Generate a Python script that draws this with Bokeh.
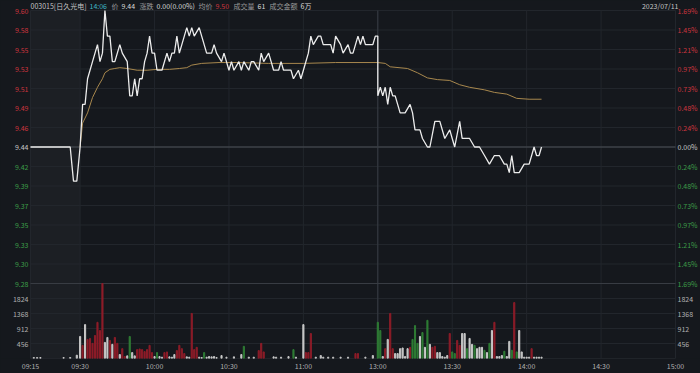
from bokeh.plotting import figure
from bokeh.models import (Range1d, FixedTicker, ColumnDataSource, BoxAnnotation, GlobalInlineStyleSheet)
from bokeh.core.properties import value
from bokeh.embed import file_html
from bokeh.resources import INLINE

# ---------------- data ----------------
prev_close = 9.44
price_hi, price_lo = 9.60, 9.28
price_tick_labels = ["9.60", "9.58", "9.55", "9.53", "9.51", "9.49", "9.46", "9.44",
                     "9.42", "9.39", "9.37", "9.35", "9.33", "9.30", "9.28"]
pct_tick_labels = ["1.69%", "1.45%", "1.21%", "0.97%", "0.73%", "0.48%", "0.24%", "0.00%",
                   "0.24%", "0.48%", "0.73%", "0.97%", "1.21%", "1.45%", "1.69%"]
vol_ticks = [456, 912, 1368, 1824]
vol_max = 2280
time_tick_labels = ["09:15", "09:30", "10:00", "10:30", "11:00", "13:00", "13:30", "14:00", "14:30", "15:00"]

price_times = ["09:15", "09:27", "09:28", "09:29", "09:30", "09:31", "09:32", "09:33", "09:35", "09:37",
               "09:38", "09:39", "09:40", "09:41", "09:42", "09:43", "09:44", "09:46", "09:47", "09:49",
               "09:50", "09:51", "09:52", "09:53", "09:54", "09:55", "09:56", "09:57", "09:58", "09:59",
               "10:00", "10:01", "10:03", "10:05", "10:06", "10:07", "10:08", "10:09", "10:10", "10:12",
               "10:13", "10:14", "10:15", "10:16", "10:18", "10:19", "10:21", "10:23", "10:24", "10:25",
               "10:27", "10:28", "10:30", "10:31", "10:32", "10:34", "10:35", "10:36", "10:38", "10:39",
               "10:40", "10:42", "10:43", "10:44", "10:46", "10:47", "10:48", "10:50", "10:51", "10:52",
               "10:55", "10:56", "10:58", "10:59", "11:00", "11:02", "11:03", "11:04", "11:06", "11:07",
               "11:08", "11:11", "11:12", "11:13", "11:15", "11:16", "11:18", "11:19", "11:20", "11:22",
               "11:23", "11:24", "11:25", "11:28", "11:29", "11:30",
               "13:00", "13:01", "13:02", "13:03", "13:04", "13:05", "13:06", "13:07", "13:09", "13:11",
               "13:13", "13:14", "13:15", "13:17", "13:18", "13:20", "13:21", "13:23", "13:25", "13:27",
               "13:29", "13:30", "13:31", "13:33", "13:34", "13:37", "13:39", "13:41", "13:43", "13:45",
               "13:47", "13:49", "13:51", "13:52", "13:53", "13:54", "13:55", "13:57", "13:59", "14:01",
               "14:03", "14:04", "14:05", "14:06"]
price_vals = [9.44, 9.44, 9.40, 9.40, 9.44, 9.49, 9.49, 9.52, 9.54, 9.56,
              9.54, 9.55, 9.60, 9.57, 9.57, 9.54, 9.54, 9.56, 9.55, 9.54,
              9.50, 9.50, 9.52, 9.50, 9.52, 9.52, 9.54, 9.55, 9.57, 9.55,
              9.55, 9.53, 9.53, 9.55, 9.54, 9.55, 9.55, 9.57, 9.55, 9.57,
              9.58, 9.57, 9.58, 9.57, 9.58, 9.57, 9.55, 9.55, 9.56, 9.55,
              9.54, 9.55, 9.53, 9.54, 9.53, 9.54, 9.53, 9.54, 9.53, 9.54,
              9.54, 9.53, 9.55, 9.54, 9.55, 9.54, 9.53, 9.53, 9.54, 9.53,
              9.53, 9.52, 9.53, 9.52, 9.53, 9.55, 9.57, 9.56, 9.57, 9.57,
              9.56, 9.56, 9.55, 9.57, 9.56, 9.55, 9.56, 9.55, 9.55, 9.57,
              9.56, 9.57, 9.56, 9.56, 9.57, 9.57,
              9.50, 9.51, 9.50, 9.51, 9.49, 9.51, 9.50, 9.50, 9.48, 9.48,
              9.49, 9.48, 9.46, 9.46, 9.45, 9.44, 9.44, 9.47, 9.47, 9.45,
              9.46, 9.45, 9.44, 9.47, 9.45, 9.45, 9.44, 9.44, 9.43, 9.42,
              9.43, 9.43, 9.42, 9.42, 9.41, 9.43, 9.41, 9.41, 9.42, 9.42,
              9.44, 9.43, 9.43, 9.44]

avg_times = ["09:30", "09:31", "09:33", "09:35", "09:37", "09:39", "09:40", "09:42", "09:44", "09:46",
             "09:49", "09:53", "09:57", "10:01", "10:06", "10:10", "10:13", "10:15", "10:19", "10:26",
             "10:33", "10:46", "11:00", "11:13", "11:30", "13:03", "13:05", "13:12", "13:16", "13:20",
             "13:24", "13:29", "13:33", "13:37", "13:43", "13:47", "13:52", "13:56", "14:01", "14:06"]
avg_vals = [9.440, 9.468, 9.480, 9.498, 9.510, 9.520, 9.527, 9.531, 9.532, 9.533,
            9.532, 9.530, 9.530, 9.531, 9.531, 9.532, 9.533, 9.536, 9.538, 9.539,
            9.539, 9.538, 9.538, 9.539, 9.539, 9.538, 9.534, 9.532, 9.527, 9.521,
            9.519, 9.518, 9.513, 9.510, 9.507, 9.504, 9.502, 9.497, 9.496, 9.496]

vol_times = ["09:16", "09:17", "09:18", "09:25", "09:27", "09:29",
             "09:30", "09:31", "09:32", "09:33", "09:34", "09:35", "09:36", "09:37", "09:38", "09:39",
             "09:40", "09:41", "09:42", "09:43", "09:44", "09:45", "09:46", "09:47", "09:48", "09:49",
             "09:50", "09:51", "09:52", "09:53", "09:54", "09:55", "09:56", "09:57", "09:58", "09:59",
             "10:00", "10:01", "10:02", "10:03", "10:04", "10:05", "10:06", "10:07", "10:08", "10:09",
             "10:10", "10:11", "10:12", "10:13", "10:14", "10:15", "10:16", "10:17", "10:18", "10:19",
             "10:20", "10:21", "10:22", "10:23", "10:24", "10:25", "10:27", "10:29", "10:32", "10:35",
             "10:36", "10:38", "10:40", "10:42", "10:43", "10:44", "10:48", "10:49", "10:51", "10:54",
             "10:56", "10:57", "11:00", "11:01", "11:02", "11:03", "11:05", "11:07", "11:08", "11:10",
             "11:12", "11:15", "11:18", "11:21", "11:22", "11:25", "11:28",
             "13:00", "13:01", "13:02", "13:03", "13:04", "13:05", "13:06", "13:07", "13:08", "13:09",
             "13:10", "13:11", "13:12", "13:13", "13:14", "13:15", "13:16", "13:17", "13:18", "13:19",
             "13:20", "13:21", "13:22", "13:23", "13:24", "13:25", "13:26", "13:27", "13:28", "13:29",
             "13:30", "13:31", "13:32", "13:33", "13:34", "13:35", "13:36", "13:37", "13:38", "13:39",
             "13:40", "13:41", "13:42", "13:43", "13:44", "13:45", "13:46", "13:47", "13:48", "13:49",
             "13:50", "13:51", "13:52", "13:53", "13:54", "13:55", "13:56", "13:57", "13:58", "13:59",
             "14:00", "14:01", "14:02", "14:03", "14:04", "14:05", "14:06"]
vol_vals = [30, 30, 30, 30, 30, 100,
            670, 400, 1030, 580, 610, 460, 700, 1100, 850, 2280,
            490, 640, 550, 430, 640, 460, 120, 300, 60, 80,
            670, 180, 80, 270, 290, 270, 210, 270, 400, 180,
            60, 180, 60, 40, 180, 200, 50, 40, 120, 240,
            400, 300, 150, 50, 40, 1370, 270, 340, 40, 30,
            180, 40, 60, 50, 60, 30, 90, 40, 50, 120,
            370, 40, 40, 240, 460, 200, 50, 40, 40, 60,
            270, 40, 1030, 180, 180, 760, 40, 90, 40, 40,
            40, 40, 40, 150, 150, 40, 90,
            1100, 850, 60, 300, 580, 1370, 300, 150, 150, 300,
            320, 60, 300, 340, 580, 1000, 460, 670, 790, 340,
            1160, 430, 340, 370, 180, 180, 60, 40, 90, 760,
            200, 150, 550, 400, 760, 760, 300, 610, 430, 400,
            300, 340, 340, 250, 180, 460, 850, 1100, 60, 60,
            90, 220, 60, 520, 250, 1700, 200, 850, 200, 40,
            40, 40, 300, 40, 40, 40, 40]
vol_dirs = ["w", "w", "w", "w", "w", "w",
            "w", "r", "w", "r", "r", "r", "r", "r", "r", "r",
            "w", "w", "r", "w", "r", "r", "w", "r", "r", "w",
            "g", "w", "w", "r", "r", "r", "r", "r", "r", "r",
            "w", "g", "w", "w", "r", "r", "w", "w", "w", "r",
            "r", "r", "r", "w", "w", "r", "r", "r", "w", "w",
            "g", "w", "w", "w", "w", "w", "w", "w", "w", "w",
            "g", "w", "w", "r", "r", "r", "w", "w", "w", "w",
            "g", "w", "w", "r", "r", "r", "w", "w", "w", "w",
            "w", "w", "w", "r", "r", "w", "w",
            "g", "g", "w", "r", "w", "r", "r", "w", "w", "w",
            "w", "w", "w", "r", "g", "g", "g", "w", "g", "w",
            "g", "w", "r", "r", "w", "w", "w", "w", "w", "r",
            "g", "g", "r", "r", "w", "w", "g", "w", "w", "g",
            "w", "w", "w", "g", "w", "g", "w", "r", "w", "w",
            "w", "g", "w", "w", "g", "r", "g", "w", "w", "w",
            "w", "w", "r", "w", "w", "w", "w"]

header_texts = ["003015[日久光电]", "14:06", "价", "9.44", "涨跌", "0.00(0.00%)",
                "均价", "9.50", "成交量", "61", "成交金额", "6万"]
trade_date = "2023/07/11"

# ---------------- styling / layout ----------------
BG = "#15181d"
BAND = "#1c1f24"
GRID = "#22262c"
RED_TXT = "#cc353d"
GREEN_TXT = "#3c9c48"
GREY_TXT = "#b0b0b0"
VOL_COLORS = {"r": "#8e1c28", "g": "#2e7c34", "w": "#c8c8c8"}
FONT = "Noto Sans CJK SC"
FS = "7px"

W, H = 700, 373
BB = 15                        # room for the time axis
FRAME_H = H - BB               # 358
PRICE_TOP_PX, SPLIT_PX = 10, 283
LEFT_PX, RIGHT_PX = 30, 675    # pixel columns of 09:15 and 15:00
X0, X1 = -20, 240
sx = (RIGHT_PX - LEFT_PX) / (X1 - X0)
k = (price_hi - price_lo) / (SPLIT_PX - PRICE_TOP_PX)
y_top = price_hi + PRICE_TOP_PX * k
y_bot = price_lo - (FRAME_H - SPLIT_PX) * k
vol_range_top = vol_max * FRAME_H / (FRAME_H - SPLIT_PX)


def t2x(t):
    h, m = (int(s) for s in t.split(":"))
    mins = h * 60 + m
    if mins < 570:                      # 09:15-09:30 call auction squeezed into 20 units
        return -20 + (mins - 555) * 20 / 15
    if mins <= 690:                     # morning session
        return mins - 570
    return 120 + mins - 780             # afternoon session


n = len(price_tick_labels)
price_tick_pos = [price_hi - i * (price_hi - price_lo) / (n - 1) for i in range(n)]
tick_colors = [RED_TXT] * 7 + ["#c8c8c8"] + [GREEN_TXT] * 7
time_tick_pos = [t2x(t) for t in time_tick_labels]

p = figure(width=W, height=H,
           x_range=Range1d(X0 - LEFT_PX / sx, X1 + (W - RIGHT_PX) / sx),
           y_range=Range1d(y_bot, y_top),
           output_backend="svg", toolbar_location=None, y_axis_location=None,
           min_border_left=0, min_border_right=0, min_border_top=0, min_border_bottom=BB,
           background_fill_color=BG, border_fill_color=BG, outline_line_color=None)
p.stylesheets = [GlobalInlineStyleSheet(css="body { background-color: #15181d; }")]
p.extra_y_ranges = {"vol": Range1d(0, vol_range_top)}
p.grid.visible = False

# pre-market band
p.add_layout(BoxAnnotation(left=X0, right=0, top=price_hi, bottom=y_bot,
                           fill_color=BAND, fill_alpha=1.0, line_alpha=0, level="underlay"))

# grid lines (kept inside the chart area)
p.segment(x0=[X0] * n, y0=price_tick_pos, x1=[X1] * n, y1=price_tick_pos, line_color=GRID, line_width=1)
p.segment(x0=[X0] * len(vol_ticks), y0=vol_ticks, x1=[X1] * len(vol_ticks), y1=vol_ticks,
          line_color=GRID, line_width=1, y_range_name="vol")
p.segment(x0=time_tick_pos, y0=[y_bot] * len(time_tick_pos), x1=time_tick_pos,
          y1=[price_hi] * len(time_tick_pos), line_color=GRID, line_width=1)
p.segment(x0=[X0], y0=[prev_close], x1=[X1], y1=[prev_close], line_color="#4c5057", line_width=1)
p.segment(x0=[X0], y0=[price_lo], x1=[X1], y1=[price_lo], line_color="#383c43", line_width=1)
p.segment(x0=[X0], y0=[y_bot], x1=[X1], y1=[y_bot], line_color="#2c3036", line_width=1)
p.segment(x0=[t2x("13:00")], y0=[y_bot], x1=[t2x("13:00")], y1=[price_hi], line_color="#383c43", line_width=1)

# bottom time axis
ax = p.xaxis[0]
ax.ticker = FixedTicker(ticks=time_tick_pos)
ax.major_label_overrides = {pos: lab for pos, lab in zip(time_tick_pos, time_tick_labels)}
ax.major_tick_line_color = None
ax.minor_tick_line_color = None
ax.major_tick_out = 0
ax.major_tick_in = 0
ax.minor_tick_out = 0
ax.minor_tick_in = 0
ax.axis_line_color = None
ax.major_label_text_color = GREY_TXT
ax.major_label_text_font = FONT
ax.major_label_text_font_size = FS
ax.major_label_standoff = 2

# price / percent / volume tick labels
p.text(x=[X0] * n, y=price_tick_pos, text=price_tick_labels, text_color=tick_colors, x_offset=-2,
       text_align="right", text_baseline="middle", text_font=value(FONT), text_font_size=value(FS))
p.text(x=[X1] * n, y=price_tick_pos, text=pct_tick_labels, text_color=tick_colors, x_offset=2,
       text_align="left", text_baseline="middle", text_font=value(FONT), text_font_size=value(FS))
vol_tick_text = [str(v) for v in vol_ticks]
p.text(x=[X0] * len(vol_ticks), y=vol_ticks, text=vol_tick_text, text_color=GREY_TXT, x_offset=-2,
       text_align="right", text_baseline="middle", text_font=value(FONT), text_font_size=value(FS),
       y_range_name="vol")
p.text(x=[X1] * len(vol_ticks), y=vol_ticks, text=vol_tick_text, text_color=GREY_TXT, x_offset=2,
       text_align="left", text_baseline="middle", text_font=value(FONT), text_font_size=value(FS),
       y_range_name="vol")

# volume bars
vsrc = ColumnDataSource(dict(x=[t2x(t) for t in vol_times], top=vol_vals,
                             color=[VOL_COLORS[d] for d in vol_dirs]))
p.vbar(x="x", top="top", bottom=0, width=0.45, color="color", source=vsrc, y_range_name="vol")

# price and average lines
p.line([t2x(t) for t in avg_times], avg_vals, line_color="#a8884e", line_width=1)
p.line([t2x(t) for t in price_times], price_vals, line_color="#ececec", line_width=1.3)

# header
header_colors = ["#c4c4c4", "#3fb6c6", "#9a9a9a", "#d8d8d8", "#9a9a9a", "#d8d8d8",
                 "#9a9a9a", RED_TXT, "#9a9a9a", "#d8d8d8", "#9a9a9a", "#d8d8d8"]
header_offsets = [0, 59, 81, 91, 109, 126, 168, 185, 203, 227, 239, 270]
header_y = price_hi + 5 * k
p.text(x=[X0] * len(header_texts), y=[header_y] * len(header_texts), text=header_texts,
       text_color=header_colors, x_offset=header_offsets, text_align="left", text_baseline="middle",
       text_font=value(FONT), text_font_size=value(FS))
p.text(x=[X1], y=[header_y], text=[trade_date], text_color="#c4c4c4", x_offset=3,
       text_align="right", text_baseline="middle", text_font=value(FONT), text_font_size=value(FS))

open("out.html", "w").write(file_html(p, INLINE))
